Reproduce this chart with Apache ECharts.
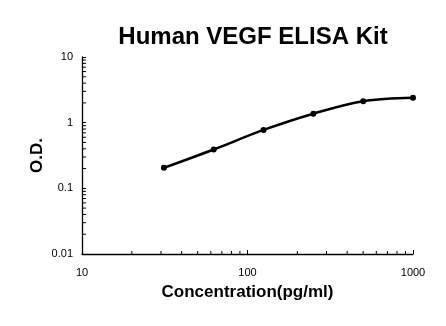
<!DOCTYPE html>
<html>
<head>
<meta charset="utf-8">
<script src="https://cdn.jsdelivr.net/npm/echarts@6/dist/echarts.min.js"></script>
<style>
  html, body { margin: 0; padding: 0; background: #fff; }
  #chart { width: 446px; height: 326px; }
</style>
</head>
<body>
<div id="chart"></div>
<script>
// Standard curve: concentration (pg/ml) vs optical density
const concentrations = [31.25, 62.5, 125, 250, 500, 1000];
const odValues = [0.205, 0.39, 0.775, 1.37, 2.12, 2.39];

// Minor tick positions on the log axes
const xMinorTicks = [20, 30, 40, 50, 60, 70, 80, 90, 200, 300, 400, 500, 600, 700, 800, 900];
const yMinorTicks = [0.02, 0.03, 0.04, 0.05, 0.06, 0.07, 0.08, 0.09,
                     0.2, 0.3, 0.4, 0.5, 0.6, 0.7, 0.8, 0.9,
                     2, 3, 4, 5, 6, 7, 8, 9];
const xMin = 10, xMax = 1000, yMin = 0.01, yMax = 10;

const font = 'Liberation Sans, Arial, sans-serif';
const chart = echarts.init(document.getElementById('chart'));

function tickSeries(values, horizontal) {
  return {
    type: 'custom',
    silent: true,
    z: 3,
    data: values.map(v => horizontal ? [v, yMin] : [xMin, v]),
    renderItem: function (params, api) {
      const p = api.coord([api.value(0), api.value(1)]);
      const shape = horizontal
        ? { x1: p[0], y1: p[1], x2: p[0], y2: p[1] - 3 }
        : { x1: p[0], y1: p[1], x2: p[0] + 4, y2: p[1] };
      return { type: 'line', shape: shape, style: { stroke: '#000', lineWidth: 1 } };
    }
  };
}

const plainNumber = v => String(+v.toPrecision(6));

chart.setOption({
  animation: false,
  backgroundColor: '#fff',
  title: {
    text: 'Human VEGF ELISA Kit',
    left: 248, top: 20, textAlign: 'center',
    textStyle: { fontFamily: font, fontSize: 24, fontWeight: 'bold', color: '#000' }
  },
  grid: { left: 82, right: 33, top: 57, bottom: 72 },
  xAxis: {
    type: 'log', logBase: 10, min: xMin, max: xMax,
    name: 'Concentration(pg/ml)', nameLocation: 'middle', nameGap: 30,
    nameMoveOverlap: false,
    nameTextStyle: { fontFamily: font, fontSize: 17, fontWeight: 'bold', color: '#000' },
    axisLine: { lineStyle: { color: '#000', width: 1.3 } },
    axisTick: { inside: true, length: 4, lineStyle: { color: '#000' } },
    axisLabel: { fontFamily: font, fontSize: 11, color: '#000', margin: 13, formatter: plainNumber },
    splitLine: { show: false }
  },
  yAxis: {
    type: 'log', logBase: 10, min: yMin, max: yMax,
    name: 'O.D.', nameLocation: 'middle', nameGap: 36,
    nameMoveOverlap: false,
    nameTextStyle: { fontFamily: font, fontSize: 17, fontWeight: 'bold', color: '#000' },
    axisLine: { show: true, lineStyle: { color: '#000', width: 1.3 } },
    axisTick: { show: true, inside: true, length: 4, lineStyle: { color: '#000' } },
    axisLabel: { fontFamily: font, fontSize: 11, color: '#000', margin: 9, formatter: plainNumber },
    splitLine: { show: false }
  },
  series: [
    {
      type: 'line',
      data: concentrations.map((c, i) => [c, odValues[i]]),
      smooth: 0.35,
      symbol: 'circle', symbolSize: 6,
      lineStyle: { color: '#000', width: 2.5 },
      itemStyle: { color: '#000' },
      z: 5
    },
    tickSeries(xMinorTicks, true),
    tickSeries(yMinorTicks, false)
  ]
});
</script>
</body>
</html>
